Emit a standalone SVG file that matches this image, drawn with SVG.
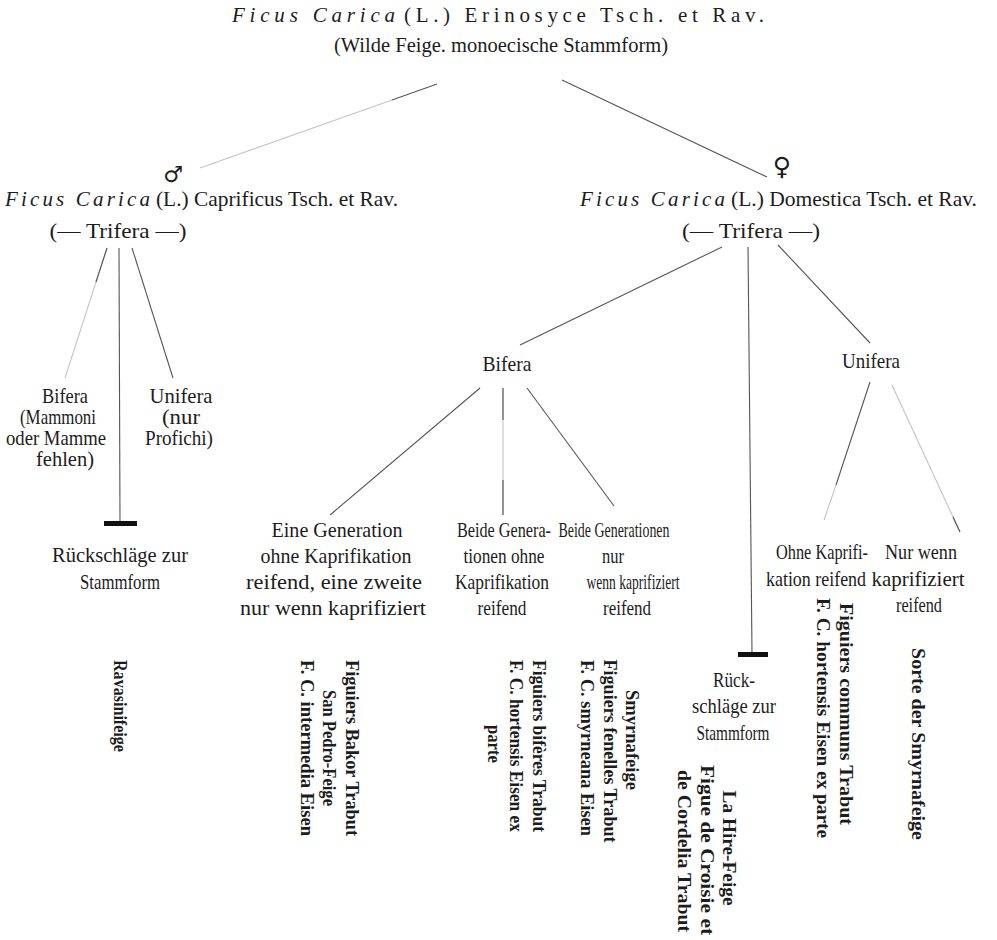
<svg xmlns="http://www.w3.org/2000/svg" width="997" height="940" viewBox="0 0 997 940">
<style>
.t{font-family:"Liberation Serif","DejaVu Serif",serif;fill:#1c1c1c;font-size:21px}
.m{text-anchor:middle}
.i{font-style:italic}
.v{font-family:"Liberation Serif","DejaVu Serif",serif;fill:#1c1c1c;font-size:19px;font-weight:bold;text-anchor:middle}
.sym{font-family:"DejaVu Sans",sans-serif;fill:#1c1c1c;text-anchor:middle}
.ln{stroke:#555;stroke-width:1.1;fill:none}
.fa{stroke:#c4c4c4;stroke-width:1.1;fill:none}
.bar{fill:#111}
</style>
<rect width="997" height="940" fill="#fff"/>
<g id="connectors">
  <line class="ln" x1="437" y1="84" x2="392" y2="100"/>
  <line class="fa" x1="392" y1="100" x2="200" y2="168"/>
  <line class="ln" x1="562" y1="80" x2="767" y2="177"/>
  <line class="fa" x1="107" y1="248" x2="65" y2="378"/>
  <line class="ln" x1="107" y1="248" x2="96" y2="282"/>
  <line class="ln" x1="119" y1="248" x2="120" y2="522"/>
  <rect class="bar" x="104" y="521" width="33" height="5"/>
  <line class="ln" x1="132" y1="248" x2="173" y2="378"/>
  <line class="ln" x1="722" y1="247" x2="520" y2="345"/>
  <line class="ln" x1="748" y1="247" x2="752" y2="653"/>
  <rect class="bar" x="738" y="652" width="30" height="5"/>
  <line class="ln" x1="778" y1="245" x2="870" y2="343"/>
  <line class="ln" x1="480" y1="388" x2="330" y2="515"/>
  <line class="fa" x1="503" y1="388" x2="503" y2="515"/>
  <line class="ln" x1="503" y1="388" x2="503" y2="420"/>
  <line class="ln" x1="503" y1="480" x2="503" y2="515"/>
  <line class="ln" x1="527" y1="388" x2="614" y2="506"/>
  <line class="ln" x1="870" y1="382" x2="836" y2="485"/>
  <line class="fa" x1="836" y1="485" x2="824" y2="520"/>
  <line class="fa" x1="892" y1="385" x2="960" y2="532"/>
  <line class="ln" x1="953" y1="517" x2="960" y2="532"/>
</g>
<g id="root">
  <text class="t i" x="232" y="22" font-size="26" textLength="163" lengthAdjust="spacing">Ficus Carica</text>
  <text class="t" x="404" y="22" font-size="25" textLength="360" lengthAdjust="spacing">(L.) Erinosyce Tsch. et Rav.</text>
  <text class="t m" x="501" y="52" font-size="17" textLength="334" lengthAdjust="spacingAndGlyphs">(Wilde Feige. monoecische Stammform)</text>
</g>
<g id="caprificus">
  <text class="sym" x="173" y="182" font-size="22">♂</text>
  <text class="t i" x="5" y="206" font-size="22" textLength="145" lengthAdjust="spacing">Ficus Carica</text>
  <text class="t" x="156" y="206" font-size="20" textLength="242" lengthAdjust="spacingAndGlyphs">(L.) Caprificus Tsch. et Rav.</text>
  <text class="t m" x="118" y="238" font-size="20" textLength="137" lengthAdjust="spacingAndGlyphs">(— Trifera —)</text>
</g>
<g id="domestica">
  <text class="sym" x="782" y="175" font-size="25">♀</text>
  <text class="t i" x="580" y="206" font-size="22" textLength="145" lengthAdjust="spacing">Ficus Carica</text>
  <text class="t" x="731" y="206" font-size="20" textLength="246" lengthAdjust="spacingAndGlyphs">(L.) Domestica Tsch. et Rav.</text>
  <text class="t m" x="751" y="238" font-size="20" textLength="138" lengthAdjust="spacingAndGlyphs">(— Trifera —)</text>
</g>
<g id="capri-bifera">
  <text class="t m" x="65" y="403" textLength="46" lengthAdjust="spacingAndGlyphs">Bifera</text>
  <text class="t m" x="58" y="424" textLength="76" lengthAdjust="spacingAndGlyphs">(Mammoni</text>
  <text class="t m" x="56" y="445" textLength="100" lengthAdjust="spacingAndGlyphs">oder Mamme</text>
  <text class="t m" x="65" y="466" textLength="58" lengthAdjust="spacingAndGlyphs">fehlen)</text>
</g>
<g id="capri-unifera">
  <text class="t m" x="181" y="403" textLength="63" lengthAdjust="spacingAndGlyphs">Unifera</text>
  <text class="t m" x="181" y="424" textLength="38" lengthAdjust="spacingAndGlyphs">(nur</text>
  <text class="t m" x="179" y="445" textLength="68" lengthAdjust="spacingAndGlyphs">Profichi)</text>
</g>
<g id="capri-rueckschlaege">
  <text class="t m" x="120" y="562" textLength="136" lengthAdjust="spacingAndGlyphs">Rückschläge zur</text>
  <text class="t m" x="120" y="589" textLength="80" lengthAdjust="spacingAndGlyphs">Stammform</text>
  <text class="v" transform="translate(114,706) rotate(90)" textLength="92" lengthAdjust="spacingAndGlyphs">Ravasinifeige</text>
</g>
<g id="dom-bifera">
  <text class="t m" x="507" y="371" textLength="49" lengthAdjust="spacingAndGlyphs">Bifera</text>
</g>
<g id="dom-unifera">
  <text class="t m" x="871" y="368" textLength="58" lengthAdjust="spacingAndGlyphs">Unifera</text>
</g>
<g id="eine-generation">
  <text class="t m" x="337" y="537" textLength="131" lengthAdjust="spacingAndGlyphs">Eine Generation</text>
  <text class="t m" x="336" y="563" textLength="151" lengthAdjust="spacingAndGlyphs">ohne Kaprifikation</text>
  <text class="t m" x="334" y="589" textLength="176" lengthAdjust="spacingAndGlyphs">reifend, eine zweite</text>
  <text class="t m" x="333" y="615" textLength="186" lengthAdjust="spacingAndGlyphs">nur wenn kaprifiziert</text>
  <text class="v" transform="translate(346,748) rotate(90)" textLength="176" lengthAdjust="spacingAndGlyphs">Figuiers Bakor Trabut</text>
  <text class="v" transform="translate(323,748) rotate(90)" textLength="116" lengthAdjust="spacingAndGlyphs">San Pedro-Feige</text>
  <text class="v" transform="translate(301,748) rotate(90)" textLength="176" lengthAdjust="spacingAndGlyphs">F. C. intermedia Eisen</text>
</g>
<g id="beide-ohne">
  <text class="t m" x="504" y="537" textLength="94" lengthAdjust="spacingAndGlyphs">Beide Genera-</text>
  <text class="t m" x="504" y="563" textLength="81" lengthAdjust="spacingAndGlyphs">tionen ohne</text>
  <text class="t m" x="502" y="589" textLength="94" lengthAdjust="spacingAndGlyphs">Kaprifikation</text>
  <text class="t m" x="502" y="615" textLength="49" lengthAdjust="spacingAndGlyphs">reifend</text>
  <text class="v" transform="translate(533,746) rotate(90)" textLength="172" lengthAdjust="spacingAndGlyphs">Figuiers bifères Trabut</text>
  <text class="v" transform="translate(510,746) rotate(90)" textLength="172" lengthAdjust="spacingAndGlyphs">F. C. hortensis Eisen ex</text>
  <text class="v" transform="translate(488,744) rotate(90)" textLength="38" lengthAdjust="spacingAndGlyphs">parte</text>
</g>
<g id="beide-nur">
  <text class="t m" x="614" y="537" textLength="111" lengthAdjust="spacingAndGlyphs">Beide Generationen</text>
  <text class="t m" x="613" y="563" textLength="22" lengthAdjust="spacingAndGlyphs">nur</text>
  <text class="t m" x="633" y="589" textLength="93" lengthAdjust="spacingAndGlyphs">wenn kaprifiziert</text>
  <text class="t m" x="627" y="615" textLength="48" lengthAdjust="spacingAndGlyphs">reifend</text>
  <text class="v" transform="translate(626,740) rotate(90)" textLength="100" lengthAdjust="spacingAndGlyphs">Smyrnafeige</text>
  <text class="v" transform="translate(604,751) rotate(90)" textLength="183" lengthAdjust="spacingAndGlyphs">Figuiers fenelles Trabut</text>
  <text class="v" transform="translate(581,748) rotate(90)" textLength="176" lengthAdjust="spacingAndGlyphs">F. C. smyrneana Eisen</text>
</g>
<g id="dom-rueckschlaege">
  <text class="t m" x="734" y="687" textLength="42" lengthAdjust="spacingAndGlyphs">Rück-</text>
  <text class="t m" x="734" y="713" textLength="84" lengthAdjust="spacingAndGlyphs">schläge zur</text>
  <text class="t m" x="733" y="740" textLength="73" lengthAdjust="spacingAndGlyphs">Stammform</text>
  <text class="v" transform="translate(723,848) rotate(90)" textLength="115" lengthAdjust="spacingAndGlyphs">La Hire-Feige</text>
  <text class="v" transform="translate(701,850) rotate(90)" textLength="170" lengthAdjust="spacingAndGlyphs">Figue de Croisie et</text>
  <text class="v" transform="translate(678,851) rotate(90)" textLength="162" lengthAdjust="spacingAndGlyphs">de Cordelia Trabut</text>
</g>
<g id="ohne-kaprifikation">
  <text class="t m" x="822" y="559" textLength="92" lengthAdjust="spacingAndGlyphs">Ohne Kaprifi-</text>
  <text class="t m" x="816" y="586" textLength="100" lengthAdjust="spacingAndGlyphs">kation reifend</text>
  <text class="v" transform="translate(840,714) rotate(90)" textLength="222" lengthAdjust="spacingAndGlyphs">Figuiers communs Trabut</text>
  <text class="v" transform="translate(817,718) rotate(90)" textLength="240" lengthAdjust="spacingAndGlyphs">F. C. hortensis Eisen ex parte</text>
</g>
<g id="nur-kaprifiziert">
  <text class="t m" x="921" y="559" textLength="72" lengthAdjust="spacingAndGlyphs">Nur wenn</text>
  <text class="t m" x="918" y="586" textLength="93" lengthAdjust="spacingAndGlyphs">kaprifiziert</text>
  <text class="t m" x="919" y="612" textLength="46" lengthAdjust="spacingAndGlyphs">reifend</text>
  <text class="v" transform="translate(912,744) rotate(90)" textLength="192" lengthAdjust="spacingAndGlyphs">Sorte der Smyrnafeige</text>
</g>
</svg>
